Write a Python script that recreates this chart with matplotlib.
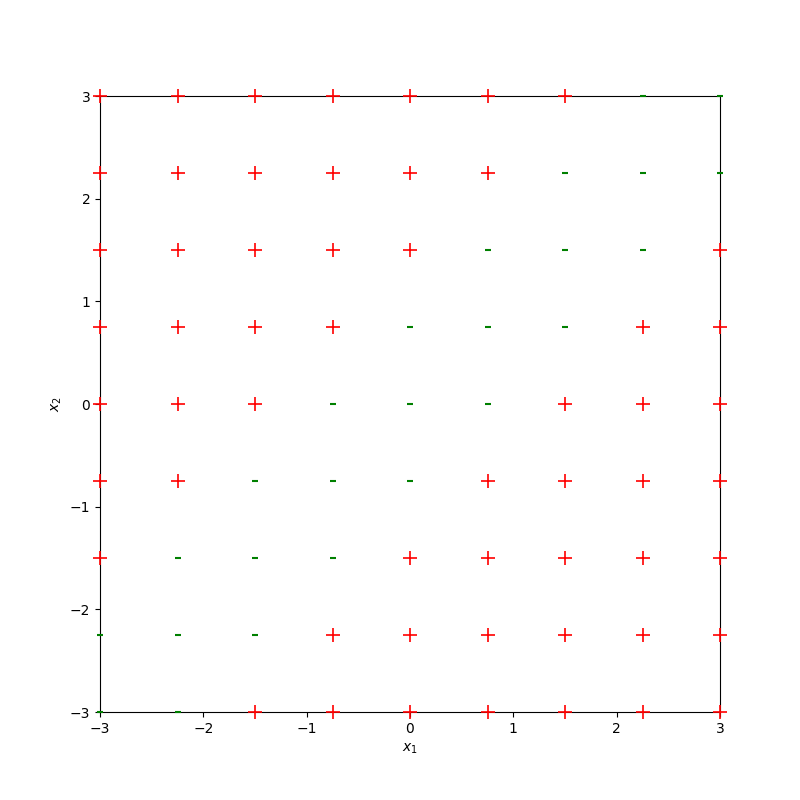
import numpy as np
import matplotlib
matplotlib.use("Agg")
import matplotlib.pyplot as plt

grid = [-3.0, -2.25, -1.5, -0.75, 0.0, 0.75, 1.5, 2.25, 3.0]
# rows from x2 = 3 down to x2 = -3, columns x1 = -3 .. 3
labels = [
    "+++++++--",
    "++++++---",
    "+++++---+",
    "++++---++",
    "+++---+++",
    "++---++++",
    "+---+++++",
    "---++++++",
    "--+++++++",
]
x2_rows = grid[::-1]

pos_x, pos_y, neg_x, neg_y = [], [], [], []
for row, x2 in zip(labels, x2_rows):
    for ch, x1 in zip(row, grid):
        if ch == "+":
            pos_x.append(x1)
            pos_y.append(x2)
        else:
            neg_x.append(x1)
            neg_y.append(x2)

fig = plt.figure(figsize=(8, 8), dpi=100)
ax = fig.add_subplot(111)
ax.plot(pos_x, pos_y, linestyle="none", marker="+", color="r",
        markersize=10, markeredgewidth=1.2, clip_on=False, zorder=3)
ax.plot(neg_x, neg_y, linestyle="none", marker="_", color="g",
        markersize=4, markeredgewidth=1.5, clip_on=False, zorder=3)
ax.set_xlim(-3, 3)
ax.set_ylim(-3, 3)
ax.set_xlabel("$x_1$")
ax.set_ylabel("$x_2$")
fig.savefig("out.png")
